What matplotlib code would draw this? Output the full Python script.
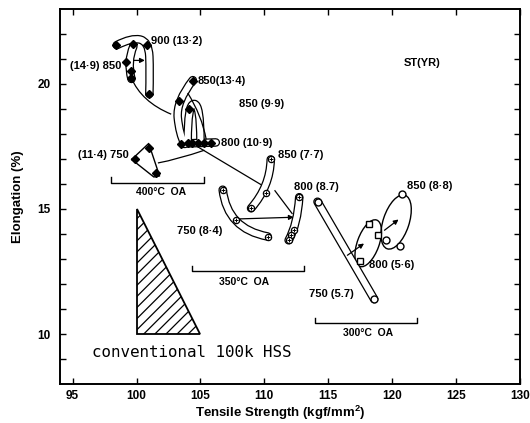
import matplotlib
matplotlib.use('Agg')
import matplotlib.pyplot as plt
from matplotlib.path import Path
from matplotlib.patches import PathPatch, Polygon, Circle
from matplotlib.transforms import Affine2D

plt.rcParams['font.family'] = ['Liberation Sans', 'DejaVu Sans']
plt.rcParams['mathtext.fontset'] = 'custom'
plt.rcParams['mathtext.rm'] = 'Liberation Sans:bold'
plt.rcParams['mathtext.bf'] = 'Liberation Sans:bold'
plt.rcParams['hatch.linewidth'] = 0.9

# ---------------- data ----------------
x_ticks = [95, 100, 105, 110, 115, 120, 125, 130]
y_ticks = [10, 15, 20]
y_minor = [9, 11, 12, 13, 14, 16, 17, 18, 19, 21, 22]

# conventional 100k HSS region
hss_ts = [100, 100, 105]
hss_el = [15, 10, 10]

# 400C OA points (filled diamonds)
oa400_ts = [98.4, 99.7, 100.8, 101.0, 99.2, 99.55, 99.6, 104.4, 103.3, 103.5,
            104.1, 104.0, 104.35, 104.8, 105.3, 105.85, 99.9, 100.95, 101.55]
oa400_el = [21.55, 21.6, 21.55, 19.6, 20.87, 20.5, 20.25, 20.1, 19.3, 17.6,
            19.0, 17.65, 17.62, 17.62, 17.65, 17.65, 16.98, 17.45, 16.45]

# 350C OA points (circles with cross)
oa350_ts = [110.5, 110.15, 108.96, 106.74, 107.77, 110.26, 112.73, 112.3, 112.1, 111.9]
oa350_el = [16.98, 15.64, 15.03, 15.77, 14.56, 13.90, 15.47, 14.15, 13.95, 13.75]

# 300C OA points
oa300_circ_ts = [114.16, 118.59, 120.8, 119.55, 120.6]
oa300_circ_el = [15.29, 11.40, 15.6, 13.78, 13.54]
oa300_sq_ts = [118.2, 118.93, 117.49]
oa300_sq_el = [14.4, 13.95, 12.94]

# capsule centre lines (tensile, elongation)
cap_900_ts = [98.45, 99.6, 100.95, 101.05, 101.0]
cap_900_el = [21.55, 21.85, 21.7, 20.5, 19.6]
cap_850a_ts = [99.75, 99.25, 99.6]
cap_850a_el = [21.5, 20.9, 20.2]
cap_850b_ts = [104.4, 103.1, 103.35, 103.75]
cap_850b_el = [20.15, 19.3, 18.0, 17.6]
cap_850c_ts = [104.0, 104.0, 105.0, 105.0]
cap_850c_el = [17.7, 19.2, 19.2, 17.7]
cap_800a_ts = [103.75, 106.2]
cap_800a_el = [17.62, 17.66]
cap_850d_ts = [110.5, 110.45, 108.96]
cap_850d_el = [16.98, 15.9, 15.03]
cap_750a_ts = [106.74, 107.1, 110.26]
cap_750a_el = [15.77, 14.2, 13.90]
cap_800b_ts = [112.73, 112.6, 111.9]
cap_800b_el = [15.47, 14.4, 13.75]
cap_750b_ts = [114.16, 118.59]
cap_750b_el = [15.29, 11.40]
capsules = [(cap_900_ts, cap_900_el), (cap_850a_ts, cap_850a_el),
            (cap_850b_ts, cap_850b_el), (cap_850c_ts, cap_850c_el),
            (cap_800a_ts, cap_800a_el), (cap_850d_ts, cap_850d_el),
            (cap_750a_ts, cap_750a_el), (cap_800b_ts, cap_800b_el),
            (cap_750b_ts, cap_750b_el)]

# loop around 750 (11.4)
loop750_ts = [99.62, 100.95, 101.8, 101.35]
loop750_el = [16.98, 17.62, 16.32, 16.28]

# elliptic loops: centre, semi-axis a, semi-axis b
ell_centre = [(118.13, 13.63), (120.31, 14.48)]
ell_a = [(0.664, 0.927), (0.70, 1.07)]
ell_b = [(0.80, -0.15), (0.96, -0.17)]

# thin connecting curves (start, control, end)
conn_1_ts = [99.58, 100.38, 102.71]
conn_1_el = [20.25, 19.28, 18.79]
conn_2_ts = [101.67, 103.23, 105.31]
conn_2_el = [16.84, 16.985, 17.35]
conn_3_ts = [104.0, 105.115, 105.45]
conn_3_el = [19.64, 18.73, 17.78]
conn_4_ts = [104.9, 109.75]
conn_4_el = [17.45, 15.97]
conn_5_ts = [110.8, 112.2]
conn_5_el = [15.75, 14.8]
connectors = [(conn_1_ts, conn_1_el), (conn_2_ts, conn_2_el), (conn_3_ts, conn_3_el),
              (conn_4_ts, conn_4_el), (conn_5_ts, conn_5_el)]

# arrows (start -> end)
arr_start = [(99.8, 20.94), (107.8, 14.6), (116.5, 13.15), (119.4, 14.15)]
arr_end = [(100.65, 20.94), (112.3, 14.67), (117.8, 13.62), (120.5, 14.58)]

# text labels
lab_text = ["900 (13·2)", "(14·9) 850", "850(13·4)", "850 (9·9)", "800 (10·9)",
            "(11·4) 750", "850 (7·7)", "800 (8.7)", "750 (8·4)", "850 (8·8)",
            "800 (5·6)", "750 (5.7)"]
lab_x = [101.15, 98.8, 104.79, 108.0, 106.6, 99.4, 111.04, 112.34, 103.2, 121.15, 118.2, 113.46]
lab_y = [21.70, 20.73, 20.13, 19.18, 17.65, 17.14, 17.15, 15.88, 14.13, 15.90, 12.77, 11.60]
lab_ha = ['left', 'right', 'left', 'left', 'left', 'right', 'left', 'left', 'left',
          'left', 'left', 'left']

# OA brackets
br_text = ["400°C  OA", "350°C  OA", "300°C  OA"]
br_x0 = [98.0, 104.35, 113.96]
br_x1 = [105.3, 113.07, 121.98]
br_y = [16.04, 12.51, 10.43]
br_lab_x = [101.95, 108.4, 118.1]
br_lab_y = [15.66, 12.1, 10.05]

# ---------------- plot ----------------
fig = plt.figure(figsize=(5.3, 4.23), dpi=100)
ax = fig.add_axes([0.113, 0.092, 0.868, 0.887])
ax.set_xlim(94, 130)
ax.set_ylim(8, 23)


def smooth_path(xs, ys):
    pts = list(zip(xs, ys))
    if len(pts) == 2:
        return Path(pts, [Path.MOVETO, Path.LINETO])
    verts = [pts[0]]
    codes = [Path.MOVETO]
    for i in range(1, len(pts) - 1):
        ctrl = pts[i]
        if i < len(pts) - 2:
            end = ((pts[i][0] + pts[i + 1][0]) / 2, (pts[i][1] + pts[i + 1][1]) / 2)
        else:
            end = pts[i + 1]
        verts += [ctrl, end]
        codes += [Path.CURVE3, Path.CURVE3]
    return Path(verts, codes)


# hatched triangle
tri = Polygon(list(zip(hss_ts, hss_el)), closed=True, facecolor='white',
              edgecolor='black', hatch='///', lw=1.3)
ax.add_patch(tri)

# capsules
for xs, ys in capsules:
    p = smooth_path(xs, ys)
    ax.add_patch(PathPatch(p, fill=False, lw=6.2, edgecolor='black',
                           capstyle='round', joinstyle='round', zorder=2))
    ax.add_patch(PathPatch(p, fill=False, lw=4.4, edgecolor='white',
                           capstyle='round', joinstyle='round', zorder=2.1))

# loops
ax.plot(loop750_ts + loop750_ts[:1], loop750_el + loop750_el[:1], color='black',
        lw=1.0, solid_joinstyle='round', zorder=2)
for (cx, cy), (ax_, ay_), (bx_, by_) in zip(ell_centre, ell_a, ell_b):
    tr = Affine2D.from_values(ax_, ay_, bx_, by_, cx, cy) + ax.transData
    ax.add_patch(Circle((0, 0), 1, fill=False, lw=1.0, edgecolor='black',
                        transform=tr, zorder=2))

# connectors
for xs, ys in connectors:
    ax.add_patch(PathPatch(smooth_path(xs, ys), fill=False, lw=0.9,
                           edgecolor='black', zorder=3))

# arrows
for s, e in zip(arr_start, arr_end):
    ax.annotate('', xy=e, xytext=s,
                arrowprops=dict(arrowstyle='-|>', lw=0.9, color='black',
                                mutation_scale=7, shrinkA=0, shrinkB=0), zorder=4)

# markers
ax.plot(oa400_ts, oa400_el, 'D', color='black', ms=3.6, zorder=5)
ax.plot(oa350_ts, oa350_el, 'o', mfc='white', mec='black', mew=0.9, ms=4.5, zorder=5)
ax.plot(oa350_ts, oa350_el, '+', color='black', mew=0.7, ms=3.5, zorder=5.1)
ax.plot(oa300_circ_ts, oa300_circ_el, 'o', mfc='white', mec='black', mew=1.0,
        ms=5, zorder=5)
ax.plot(oa300_sq_ts, oa300_sq_el, 's', mfc='white', mec='black', mew=1.0,
        ms=4.5, zorder=5)

# labels
for t, x, y, ha in zip(lab_text, lab_x, lab_y, lab_ha):
    ax.text(x, y, t, ha=ha, va='center', fontsize=8, fontweight='bold', zorder=6)

# brackets
for t, x0, x1, y, lx, ly in zip(br_text, br_x0, br_x1, br_y, br_lab_x, br_lab_y):
    ax.plot([x0, x0, x1, x1], [y + 0.22, y, y, y + 0.22], color='black', lw=1.0)
    ax.text(lx, ly, t, ha='center', va='center', fontsize=7.5, fontweight='bold')

ax.text(120.9, 20.85, "ST(YR)", ha='left', va='center', fontsize=8, fontweight='bold')
ax.text(104.3, 9.25, "conventional 100k HSS", ha='center', va='center',
        fontsize=11.4, family='DejaVu Sans Mono')

# axes styling
ax.set_xticks(x_ticks)
ax.set_yticks(y_ticks)
ax.set_yticks(y_minor, minor=True)
ax.tick_params(which='both', direction='in', top=True, right=True,
               length=4.5, width=1.0, labelsize=8.5)
ax.tick_params(axis='x', pad=4.3)
ax.tick_params(axis='y', pad=6.5)
for lab in ax.get_xticklabels() + ax.get_yticklabels():
    lab.set_fontweight('bold')
for sp in ax.spines.values():
    sp.set_linewidth(1.4)

ax.set_xlabel("Tensile Strength (kgf/mm$^{2}$)", fontsize=9.5, fontweight='bold')
ax.set_ylabel("Elongation (%)", fontsize=9.5, fontweight='bold')
ax.xaxis.set_label_coords(0.478, -0.052)
ax.yaxis.set_label_coords(-0.078, 0.5)

fig.savefig('out.png', dpi=100)
